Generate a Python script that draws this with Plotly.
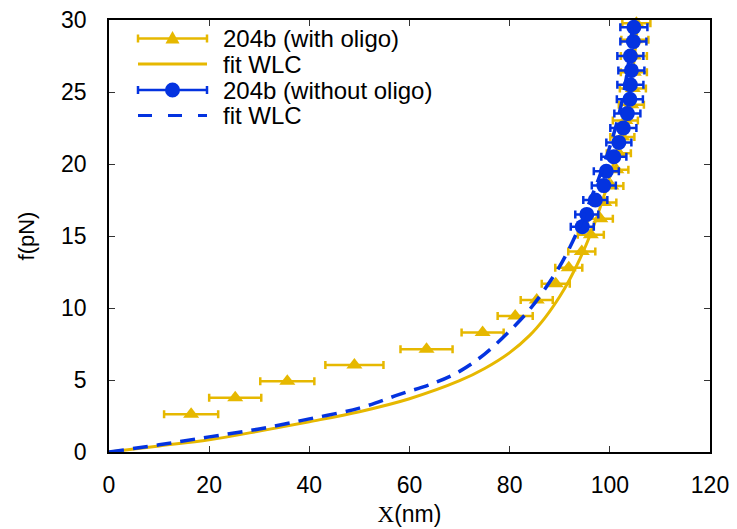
import plotly.graph_objects as go

# ---- data ----
with_x = [16.4, 25.2, 35.6, 49.0, 63.4, 74.6, 81.1, 85.4, 89.2, 91.8, 94.4, 96.2, 98.1,
          98.9, 100.3, 101.3, 101.8, 102.5, 103.1, 104.3, 104.6, 104.8, 104.8, 105.0, 105.3]
with_f = [2.62, 3.77, 4.91, 6.04, 7.13, 8.29, 9.44, 10.56, 11.68, 12.8, 13.92, 15.08, 16.2,
          17.32, 18.47, 19.6, 20.75, 21.88, 23.02, 24.12, 25.25, 26.38, 27.5, 28.62, 29.77]
with_err = [5.4, 5.2, 5.4, 5.8, 5.2, 4.2, 3.5, 3.2, 2.8, 2.7, 2.7, 2.6, 2.5,
            2.4, 2.4, 2.4, 2.4, 2.4, 2.5, 2.5, 2.6, 2.6, 2.6, 2.7, 2.8]

without_x = [94.5, 95.4, 97.1, 98.8, 99.3, 100.8, 101.8, 102.7, 103.5, 104.0, 104.1,
             104.3, 104.1, 104.7, 104.8]
without_f = [15.65, 16.5, 17.5, 18.5, 19.5, 20.5, 21.5, 22.5, 23.5, 24.5, 25.5,
             26.5, 27.5, 28.5, 29.5]
without_err = [2.3, 2.3, 2.4, 2.4, 2.5, 2.5, 2.5, 2.6, 2.6, 2.6, 2.6, 2.6, 2.6, 2.6, 2.7]

fit_with_x = [0, 10, 20, 30, 40, 50, 60, 70, 75, 80, 84, 87, 90, 92, 94, 96, 98, 100,
              102, 103.5, 104.7, 105.6]
fit_with_f = [0, 0.42, 0.85, 1.45, 2.1, 2.8, 3.7, 4.95, 5.8, 6.9, 8.1, 9.3, 10.8, 12.0,
              13.4, 15.0, 16.9, 19.1, 21.8, 24.2, 26.8, 30.0]

fit_without_x = [0, 10, 20, 30, 40, 50, 58, 65, 70, 75, 80, 84, 87, 90, 92, 94, 96, 98,
                 100, 101.5, 102.8, 103.8, 104.6]
fit_without_f = [0, 0.5, 1.05, 1.6, 2.3, 3.05, 4.0, 4.8, 5.6, 6.8, 8.4, 9.9, 11.3, 12.9,
                 14.2, 15.7, 17.4, 19.2, 21.2, 23.0, 25.0, 27.2, 30.0]

legend_labels = ["204b (with oligo)", "fit WLC", "204b (without oligo)", "fit WLC"]

YEL = "#E6B800"
BLU = "#0433E0"
FONT = "Liberation Sans, Arial, Helvetica, sans-serif"

W, H = 737, 529
L, R, T, B = 109, 27, 20, 77
PW, PH = W - L - R, H - T - B


def px(xp):
    return (xp - L) / PW


def py(yp):
    return (H - B - yp) / PH


fig = go.Figure()

fig.add_trace(go.Scatter(
    x=with_x, y=with_f, mode="markers", showlegend=False, cliponaxis=False,
    marker=dict(symbol="triangle-up", size=14, color=YEL),
    error_x=dict(type="data", array=with_err, color=YEL, thickness=2.5, width=4),
))
fig.add_trace(go.Scatter(
    x=fit_with_x, y=fit_with_f, mode="lines", showlegend=False,
    line=dict(color=YEL, width=3, shape="spline", smoothing=1.0),
))
fig.add_trace(go.Scatter(
    x=without_x, y=without_f, mode="markers", showlegend=False, cliponaxis=False,
    marker=dict(symbol="circle", size=15, color=BLU),
    error_x=dict(type="data", array=without_err, color=BLU, thickness=2.5, width=4),
))
fig.add_trace(go.Scatter(
    x=fit_without_x, y=fit_without_f, mode="lines", showlegend=False,
    line=dict(color=BLU, width=3.5, dash="15px,9px", shape="spline", smoothing=1.0),
))

# ---- custom legend (gnuplot style) ----
rows = [38.5, 64, 90, 115.5]
sx0, sx1, tx = 138, 207, 221
colors = [YEL, YEL, BLU, BLU]
shapes = []
annotations = []
for i, (ry, lab) in enumerate(zip(rows, legend_labels)):
    c = colors[i]
    dash = "14px,16px" if i == 3 else "solid"
    shapes.append(dict(type="line", xref="paper", yref="paper",
                       x0=px(sx0), x1=px(sx1), y0=py(ry), y1=py(ry),
                       line=dict(color=c, width=3 if i in (1, 3) else 2.5, dash=dash)))
    if i in (0, 2):
        for xx in (sx0, sx1):
            shapes.append(dict(type="line", xref="paper", yref="paper",
                               x0=px(xx), x1=px(xx), y0=py(ry - 4), y1=py(ry + 4),
                               line=dict(color=c, width=2.5)))
    if i == 0:
        shapes.append(dict(type="path", xref="paper", yref="paper",
                           xsizemode="pixel", ysizemode="pixel",
                           xanchor=px((sx0 + sx1) / 2), yanchor=py(ry),
                           path="M-7,-5 L7,-5 L0,7.5 Z",
                           fillcolor=c, line=dict(color=c, width=0)))
    if i == 2:
        shapes.append(dict(type="circle", xref="paper", yref="paper",
                           xsizemode="pixel", ysizemode="pixel",
                           xanchor=px((sx0 + sx1) / 2), yanchor=py(ry),
                           x0=-7.5, x1=7.5, y0=-7.5, y1=7.5,
                           fillcolor=c, line=dict(color=c, width=0)))
    annotations.append(dict(xref="paper", yref="paper", x=px(tx), y=py(ry),
                            xanchor="left", yanchor="middle", showarrow=False,
                            text=lab, font=dict(family=FONT, size=24, color="black")))

axis_common = dict(
    showline=True, linecolor="black", linewidth=1.5, mirror="ticks",
    ticks="inside", ticklen=6, tickwidth=1, tickcolor="#333333",
    showgrid=False, zeroline=False, automargin=False,
    tickfont=dict(family=FONT, size=23, color="black"),
)

fig.update_layout(
    width=W, height=H, autosize=False,
    margin=dict(l=L, r=R, t=T, b=B),
    paper_bgcolor="white", plot_bgcolor="white",
    font=dict(family=FONT, size=23, color="black"),
    xaxis=dict(range=[0, 120], tickvals=[0, 20, 40, 60, 80, 100, 120],
               ticklabelstandoff=12,
               title=dict(text="<span style='font-family:Liberation Serif'>X</span>(nm)",
                          font=dict(family=FONT, size=23), standoff=9),
               **axis_common),
    yaxis=dict(range=[0, 30], tickvals=[0, 5, 10, 15, 20, 25, 30],
               ticklabelstandoff=16,
               title=dict(text="f(pN)", font=dict(family=FONT, size=22), standoff=20),
               **axis_common),
    shapes=shapes, annotations=annotations,
)

fig.write_html("out.html")
